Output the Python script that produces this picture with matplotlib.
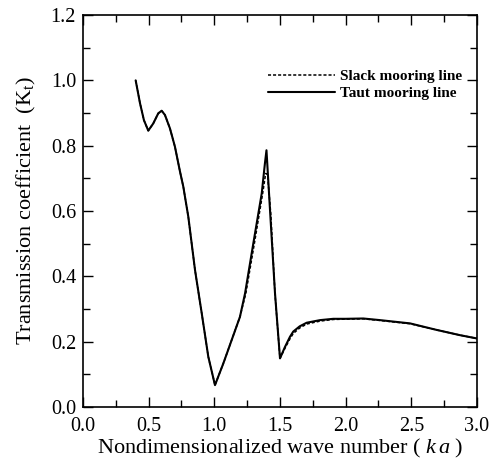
import matplotlib
matplotlib.use("Agg")
import matplotlib.pyplot as plt
from matplotlib.ticker import MultipleLocator

plt.rcParams['font.family'] = ['Liberation Serif', 'DejaVu Serif']
plt.rcParams['mathtext.fontset'] = 'custom'
plt.rcParams['mathtext.rm'] = 'Liberation Serif'
plt.rcParams['mathtext.it'] = 'Liberation Serif:italic'

taut_ka = [0.401, 0.434, 0.464, 0.497, 0.535, 0.573, 0.599, 0.624, 0.662, 0.70, 0.739,
           0.764, 0.802, 0.853, 0.904, 0.954, 1.005, 1.069, 1.132, 1.195, 1.234, 1.297,
           1.361, 1.385, 1.397, 1.424, 1.462, 1.50, 1.538, 1.576, 1.601, 1.65, 1.703,
           1.805, 1.906, 2.0, 2.134, 2.261, 2.49, 2.693, 2.87, 2.998]
taut_kt = [1.0, 0.93, 0.878, 0.846, 0.868, 0.899, 0.907, 0.894, 0.853, 0.797, 0.72,
           0.674, 0.582, 0.419, 0.287, 0.154, 0.067, 0.134, 0.205, 0.276, 0.348, 0.501,
           0.654, 0.745, 0.786, 0.603, 0.348, 0.149, 0.184, 0.215, 0.231, 0.247, 0.258,
           0.266, 0.270, 0.270, 0.271, 0.266, 0.256, 0.236, 0.220, 0.210]

slack_ka = [0.401, 0.434, 0.464, 0.497, 0.535, 0.573, 0.599, 0.624, 0.662, 0.70, 0.739,
            0.764, 0.802, 0.853, 0.904, 0.954, 1.005, 1.069, 1.132, 1.195, 1.240, 1.305,
            1.368, 1.391, 1.405, 1.430, 1.462, 1.50, 1.538, 1.576, 1.601, 1.65, 1.703,
            1.805, 1.906, 2.0, 2.134, 2.261, 2.49, 2.693, 2.87, 2.998]
slack_kt = [1.0, 0.93, 0.878, 0.846, 0.868, 0.899, 0.907, 0.894, 0.853, 0.797, 0.72,
            0.674, 0.582, 0.419, 0.287, 0.154, 0.067, 0.134, 0.205, 0.276, 0.348, 0.501,
            0.654, 0.715, 0.712, 0.590, 0.345, 0.149, 0.180, 0.209, 0.225, 0.242, 0.254,
            0.263, 0.268, 0.269, 0.270, 0.265, 0.255, 0.236, 0.220, 0.210]

fig = plt.figure(figsize=(4.92, 4.65), dpi=100)
ax = fig.add_axes([0.1687, 0.1247, 0.8008, 0.843])

ax.plot(slack_ka, slack_kt, color='black', lw=1.1, ls=(0, (2.0, 1.3)), label='Slack mooring line')
ax.plot(taut_ka, taut_kt, color='black', lw=1.5, label='Taut mooring line',
        solid_joinstyle='round', solid_capstyle='round')

ax.set_xlim(0, 3.0)
ax.set_ylim(0, 1.2)
ax.xaxis.set_major_locator(MultipleLocator(0.5))
ax.xaxis.set_minor_locator(MultipleLocator(0.25))
ax.yaxis.set_major_locator(MultipleLocator(0.2))
ax.yaxis.set_minor_locator(MultipleLocator(0.1))
ax.xaxis.set_major_formatter(plt.FuncFormatter(lambda v, p: f"{v:.1f}"))
ax.yaxis.set_major_formatter(plt.FuncFormatter(lambda v, p: f"{v:.1f}"))
ax.tick_params(which='both', direction='in', top=True, right=True, labelsize=14.5, width=1.0)
ax.tick_params(which='major', length=7)
ax.tick_params(which='minor', length=5)
ax.tick_params(axis='x', which='major', pad=7)
ax.tick_params(axis='y', which='major', pad=5)
for s in ax.spines.values():
    s.set_linewidth(1.2)

ax.set_xlabel(r"Nondimensionalized wave number ( $k\,a$ )", fontsize=16, labelpad=1)
ax.set_ylabel(r"Transmission coefficient  (K$_\mathrm{t}$)", fontsize=16, labelpad=9)

leg = ax.legend(loc='upper right', bbox_to_anchor=(0.985, 0.885), frameon=False, fontsize=11,
                handlelength=4.4, handletextpad=0.3, labelspacing=0.25, borderaxespad=0.2)
for t in leg.get_texts():
    t.set_fontweight('bold')

fig.savefig('out.png', dpi=100)
